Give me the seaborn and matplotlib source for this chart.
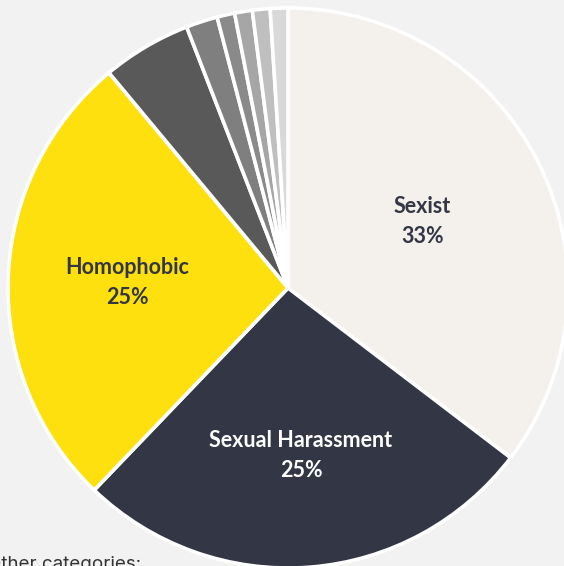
import matplotlib
matplotlib.use("Agg")
import matplotlib.pyplot as plt
import numpy as np
import seaborn as sns

# Share of reported abuse by category (percent)
categories = ["Sexist", "Sexual Harassment", "Homophobic",
              "Other 1", "Other 2", "Other 3", "Other 4", "Other 5", "Other 6"]
values = [33, 25, 25, 4.8, 1.7, 0.95, 0.95, 0.95, 0.95]
labelled = ["Sexist", "Sexual Harassment", "Homophobic"]

sns.set_theme(style="white")
plt.rcParams["font.family"] = ["Lato", "DejaVu Sans"]

BG = "#f2f2f2"
greys = sns.color_palette(["#595959", "#7f7f7f", "#8a8a8a", "#a6a6a6", "#bfbfbf", "#d9d9d9"])
colors = ["#f4f1ec", "#333644", "#ffe00f"] + list(greys)

W, H = 564, 566
fig = plt.figure(figsize=(W / 100, H / 100), dpi=100, facecolor=BG)
ax = fig.add_axes([0, 0, 1, 1])
ax.set_facecolor(BG)

cx, cy, R = 288, H - 288, 280
wedges, _ = ax.pie(values, colors=colors, startangle=90, counterclock=False,
                   center=(cx, cy), radius=R,
                   wedgeprops=dict(edgecolor="white", linewidth=2.6))

ax.set_xlim(0, W)
ax.set_ylim(0, H)
ax.set_aspect("auto")
ax.axis("off")

label_r = {"Sexist": 0.535, "Sexual Harassment": 0.6, "Homophobic": 0.575}
text_col = {"Sexist": "#333644", "Sexual Harassment": "white", "Homophobic": "#333644"}
for w, name, v in zip(wedges, categories, values):
    if name not in labelled:
        continue
    mid = np.deg2rad((w.theta1 + w.theta2) / 2)
    r = label_r[name] * R
    x, y = cx + r * np.cos(mid), cy + r * np.sin(mid)
    ax.text(x, y, f"{name}\n{v:g}%", ha="center", va="center",
            fontsize=15.5, fontweight="bold", color=text_col[name],
            linespacing=1.5)

ax.text(-13, -7, "Other categories:", ha="left", va="bottom",
        fontsize=13.5, color="#333333", family=["Inter", "DejaVu Sans"])

fig.savefig("out.png", dpi=100, facecolor=BG)
